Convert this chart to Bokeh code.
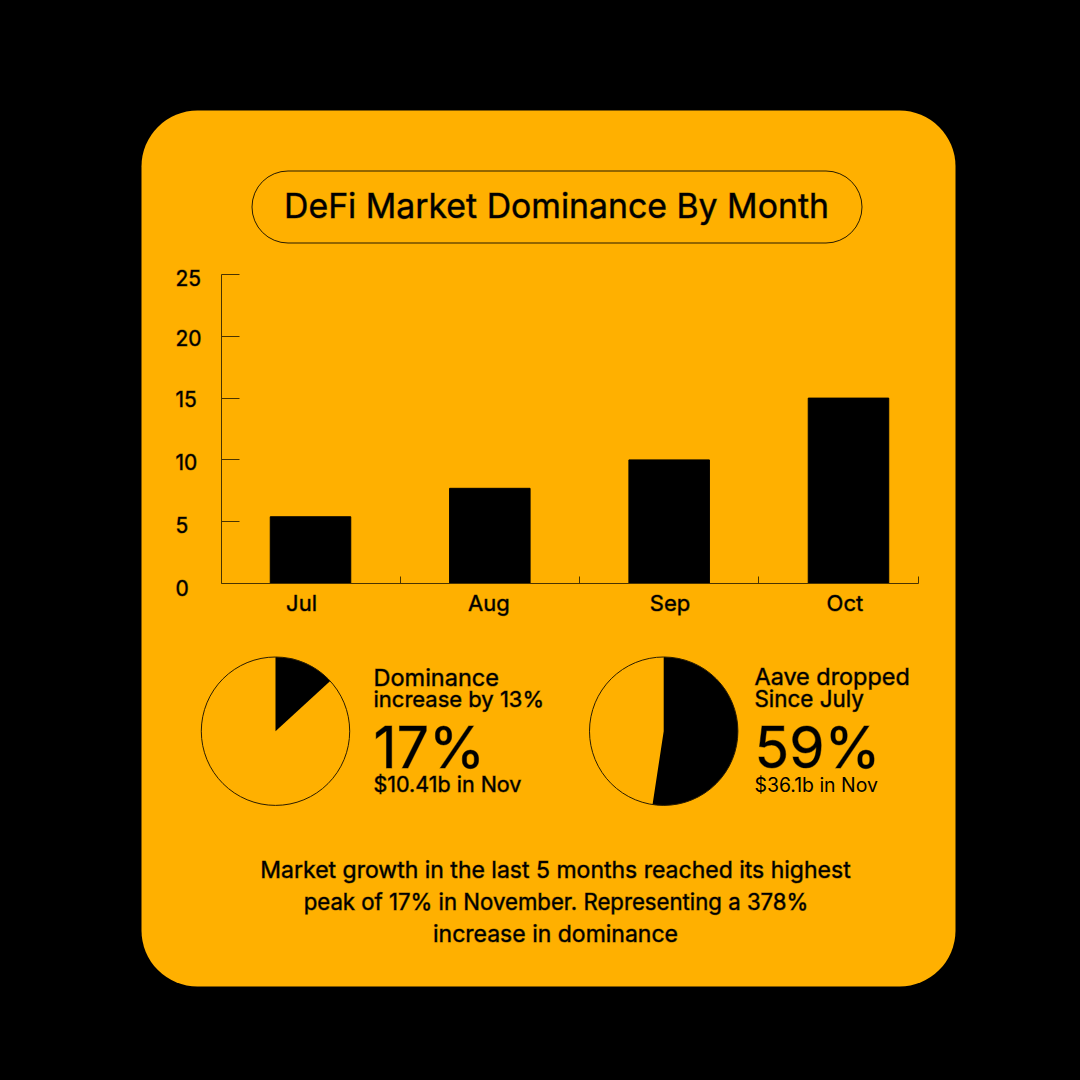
from bokeh.embed import file_html
from bokeh.resources import INLINE
from bokeh.plotting import figure
from bokeh.models import (Range1d, LinearAxis, FixedTicker, BoxAnnotation, ColumnDataSource)
from bokeh.core.properties import value
import math

months = ["Jul", "Aug", "Sep", "Oct"]
month_index = [0, 1, 2, 3]
dominance = [5.4, 7.7, 10.0, 15.0]
value_ticks = [0, 5, 10, 15, 20, 25]
pie_share = [13.2, 52.4]
title = "DeFi Market Dominance By Month"
text_rows = [
    ("Dominance", 373, 677, 23.5),
    ("increase by 13%", 373, 698, 22),
    ("17%", 373, 747, 57),
    ("$10.41b in Nov", 373, 783, 21.5),
    ("Aave dropped", 754, 676, 23.4),
    ("Since July", 754, 698, 22.4),
    ("59%", 754, 747, 57),
    ("$36.1b in Nov", 754, 784, 19.4),
]
center_rows = [
    (title, 556, 205, 33.8),
    ("Market growth in the last 5 months reached its highest", 555, 869, 23),
    ("peak of 17% in November. Representing a 378%", 555.5, 901, 22.2),
    ("increase in dominance", 555, 933, 23),
]

FONT = "Inter"
CARD = "#FFB000"
AXIS = "#4a3300"
WEIGHT = "rgba(0,0,0,0.45)"
NO_WEIGHT = "rgba(0,0,0,0)"

# Layout: the frame covers the page, in window pixels (y flipped to bottom-up).
W = 1064
def Y(py):
    return W - py

p = figure(width=W, height=W, output_backend="svg", toolbar_location=None,
           x_range=Range1d(0, W), y_range=Range1d(0, W),
           min_border=0, outline_line_color=None, background_fill_color="#000000",
           border_fill_color="#000000")
p.xaxis.visible = False
p.yaxis.visible = False
p.grid.visible = False

# Chart scales
STEP = 179.33
C0 = 310
UNIT = 12.36
BASE = 583
p.extra_x_ranges["month"] = Range1d(-C0 / STEP, (W - C0) / STEP)
p.extra_y_ranges["value"] = Range1d(-(W - BASE) / UNIT, BASE / UNIT)

card = BoxAnnotation(left=141, right=955, top=Y(110), bottom=Y(986), fill_color=CARD, fill_alpha=1,
                     line_color=None, border_radius=56, level="underlay")
pill = BoxAnnotation(left=251.5, right=861.5, top=Y(170.5), bottom=Y(242.5), fill_alpha=0,
                     line_color="#000000", line_alpha=0.85, line_width=1, border_radius=36,
                     level="underlay")
p.add_layout(card)
p.add_layout(pill)

# Bars
p.vbar(x=month_index, top=dominance, bottom=0, width=80.5 / STEP, color="#000000",
       x_range_name="month", y_range_name="value")

# Axes
yax = LinearAxis(x_range_name="month", y_range_name="value", fixed_location=(220.5 - C0) / STEP,
                 bounds=(0, 25), ticker=FixedTicker(ticks=value_ticks),
                 major_label_overrides={v: "" for v in value_ticks},
                 axis_line_color=AXIS, axis_line_width=1,
                 major_tick_line_color=AXIS, major_tick_in=18, major_tick_out=0,
                 minor_tick_line_color=None)
p.add_layout(yax, "left")

value_label_nudge = [4, 3, 2, 1, 2, 3]
p.text(x=[(175 - C0) / STEP] * len(value_ticks), y=value_ticks, text=[str(v) for v in value_ticks],
       y_offset=value_label_nudge, x_range_name="month", y_range_name="value",
       text_font=value(FONT), text_font_size="21px", text_color="#000000", text_outline_color=WEIGHT,
       text_align="left", text_baseline="middle")

label_pos = [-0.05, 0.995, 2.005, 2.98]
xax = LinearAxis(x_range_name="month", y_range_name="value", fixed_location=0,
                 bounds=((220.5 - C0) / STEP, (918 - C0) / STEP),
                 ticker=FixedTicker(ticks=label_pos, minor_ticks=[0.5, 1.5, 2.5, (918 - C0) / STEP]),
                 major_label_overrides=dict(zip(label_pos, months)),
                 axis_line_color=AXIS, axis_line_width=1,
                 major_tick_line_color=None, minor_tick_line_color=AXIS,
                 minor_tick_in=7, minor_tick_out=0, major_label_standoff=0,
                 major_label_text_font=FONT, major_label_text_font_size="22px",
                 major_label_text_color="#000000", major_label_text_outline_color=WEIGHT)
p.add_layout(xax, "below")

# Pies
cx = [275, 663.2]
cy = [Y(730.7), Y(730.7)]
R = 74.2
starts = [math.pi / 2 - 2 * math.pi * s / 100 for s in pie_share]
p.wedge(x=cx, y=cy, radius=R, start_angle=starts, end_angle=[math.pi / 2] * 2,
        direction="anticlock", fill_color="#000000", line_color=None)
p.circle(x=cx, y=cy, radius=R, fill_alpha=0, line_color="#2a1c00", line_width=1)

# Text
left = ColumnDataSource(dict(t=[r[0] for r in text_rows], x=[r[1] for r in text_rows],
                             y=[Y(r[2]) for r in text_rows],
                             s=[f"{r[3]}px" for r in text_rows],
                             o=[NO_WEIGHT if r[0].startswith("$36") else WEIGHT for r in text_rows]))
p.text(x="x", y="y", text="t", text_font_size="s", text_font=value(FONT), text_color="#000000",
       text_outline_color="o", text_align="left", text_baseline="middle", source=left)
mid = ColumnDataSource(dict(t=[r[0] for r in center_rows], x=[r[1] for r in center_rows],
                            y=[Y(r[2]) for r in center_rows],
                            s=[f"{r[3]}px" for r in center_rows]))
p.text(x="x", y="y", text="t", text_font_size="s", text_font=value(FONT), text_color="#000000",
       text_outline_color=WEIGHT, text_align="center", text_baseline="middle", source=mid)

html = file_html(p, INLINE)
html = html.replace("</head>", "<style>html,body{background:#000}</style></head>", 1)
open("out.html", "w").write(html)
